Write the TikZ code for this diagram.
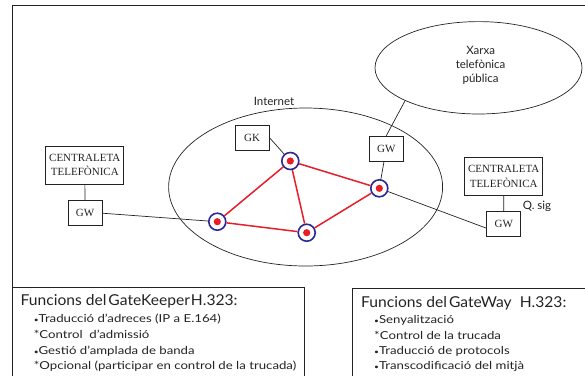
\documentclass[tikz,border=0pt]{standalone}
\usepackage{fontspec}
\setmainfont{Liberation Serif}
\newfontfamily\sansf{Lato}
\newfontfamily\sansw[FakeStretch=1.2]{Lato}
\newfontfamily\sanst[FakeStretch=1.04]{Lato}
\usetikzlibrary{shapes.geometric}
\definecolor{rred}{RGB}{230,30,40}
\definecolor{rblue}{RGB}{40,40,150}
\definecolor{ink}{RGB}{35,35,35}
\begin{document}
\begin{tikzpicture}[x=1pt,y=-1pt,
  box/.style={draw=ink, line width=0.7pt, font=\fontsize{11}{14.5}\selectfont, text=ink, inner sep=1pt, align=center},
  gwbox/.style={box, minimum width=34pt, minimum height=25pt},
  clbox/.style={box, minimum width=78pt, minimum height=38pt},
  router/.style={circle, draw=rblue, line width=1.6pt, minimum size=17pt, inner sep=0pt},
  net/.style={ellipse, draw=ink, line width=0.7pt, inner sep=0pt},
  wire/.style={draw=ink, line width=0.7pt},
  redl/.style={draw=rred, line width=1.5pt},
  lbl/.style={font=\sansf\fontsize{11.5}{14}\selectfont, text=ink, inner sep=0pt, align=center},
  ttl/.style={font=\sanst\fontsize{15}{18}\selectfont, text=ink, inner sep=0pt, anchor=base west},
  itm/.style={font=\sansw\fontsize{11}{14}\selectfont, text=ink, inner sep=0pt, anchor=base west},
  frame/.style={draw=ink, line width=0.8pt}
]
\useasboundingbox (0,0) rectangle (585,376);
% frame
\coordinate (ftl) at (12.3,5.3);
\coordinate (ftr) at (585,5.3);
\coordinate (fbl) at (12.3,376);
\draw[frame] (ftr) -- (ftl) -- (fbl);
% bottom boxes
\coordinate (la) at (12.3,287.3);
\coordinate (lb) at (304.5,287.3);
\coordinate (lc) at (304.5,376);
\draw[frame] (la) -- (lb) -- (lc);
\coordinate (ra) at (352.6,376);
\coordinate (rb) at (352.6,288);
\coordinate (rc) at (585,288);
\draw[frame] (ra) -- (rb) -- (rc);

% networks
\node[net, minimum width=274pt, minimum height=158pt] (inet) at (305.6,187) {};
\node[lbl] (inetl) at (274,101) {Internet};
\node[net, minimum width=207pt, minimum height=92.4pt] (xarxa) at (478.5,67.8) {};
\node[lbl] (xarxal) at (480.6,65.5) {Xarxa\\telefònica\\pública};

% boxes
\node[gwbox] (gk) at (252,137.5) {GK};
\node[gwbox] (gwt) at (386.3,148.5) {GW};
\node[clbox] (lcl) at (84.8,165) {CENTRALETA\\TELEFÒNICA};
\node[gwbox] (lgw) at (85,213.2) {GW};
\node[clbox] (rcl) at (503.7,176.2) {CENTRALETA\\TELEFÒNICA};
\node[gwbox] (rgw) at (503.8,224.2) {GW};
\node[lbl] (qsig) at (537,206) {Q. sig};

% routers
\node[router] (n1) at (290.3,161) {};
\node[router] (n2) at (379.3,188.3) {};
\node[router] (n3) at (217.3,221.7) {};
\node[router] (n4) at (306.7,232.7) {};
\foreach \n in {n1,n2,n3,n4} \fill[rred] (\n) circle[radius=3.6];

% red links
\draw[redl] (n3) -- (n1);
\draw[redl] (n1) -- (n2);
\draw[redl] (n1) -- (n4);
\draw[redl] (n3) -- (n4);
\draw[redl] (n4) -- (n2);

% black wires
\draw[wire] (gk.east) -- (n1);
\draw[wire] (gwt) -- (n2);
\draw[wire] (gwt.north) -- (xarxa.south west);
\draw[wire] (lgw.east) -- (n3);
\draw[wire] (n2) -- ([yshift=-4pt]rgw.west);
\draw[wire] (lcl) -- (lgw);
\draw[wire] (rcl) -- (rgw);

% left text
\node[ttl] (gkt) at (20.5,305.7) {Funcions del\hspace{2pt}GateKeeper\hspace{1pt}H.323:};
\node[itm] (g1) at (33.6,322.7) {{\fontsize{7}{7}\selectfont •}Traducció d’adreces (IP a E.164)};
\node[itm] (g2) at (33.6,338.3) {*Control \ d’admissió};
\node[itm] (g3) at (33.6,354) {{\fontsize{7}{7}\selectfont •}Gestió d’amplada de banda};
\node[itm] (g4) at (33.6,369) {*Opcional (participar en control de la trucada)};
% right text
\node[ttl] (gwtt) at (361,307.3) {Funcions del\hspace{2pt}GateWay \ H.323:};
\node[itm] (w1) at (374,323) {{\fontsize{7}{7}\selectfont •}Senyalització};
\node[itm] (w2) at (374,339.7) {*Control de la trucada};
\node[itm] (w3) at (374,354.7) {{\fontsize{7}{7}\selectfont •}Traducció de protocols};
\node[itm] (w4) at (374,369.7) {{\fontsize{7}{7}\selectfont •}Transcodificació del mitjà};
\end{tikzpicture}
\end{document}
